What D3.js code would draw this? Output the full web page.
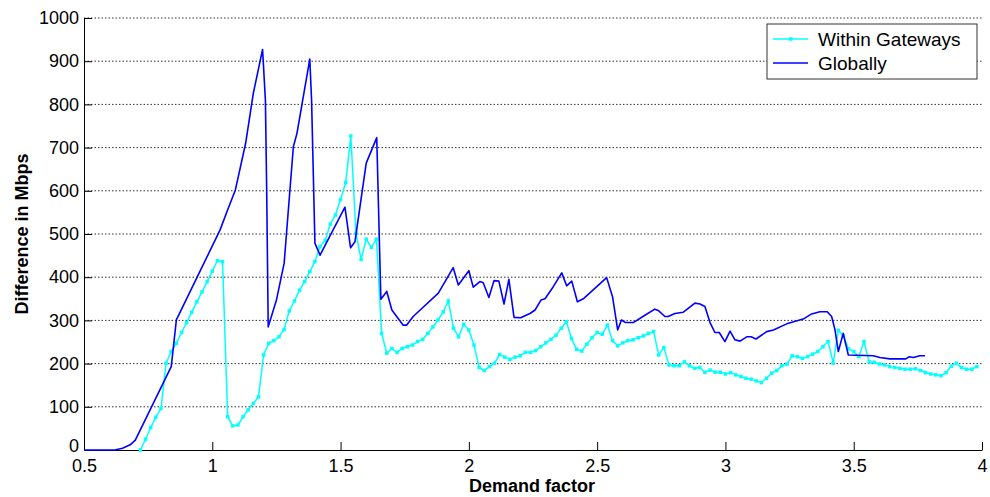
<!DOCTYPE html>
<html>
  <head>
    <meta charset="UTF-8">
    <title>Difference in Mbps vs demand factor</title>
  </head>
  <style type="text/css">
    body { margin: 0; background: #fff; }
    text { font-family: Arial, "Liberation Sans", sans-serif; fill: #000; }
    .tick text { font-size: 18px; }
    .axis-title { font-size: 18px; font-weight: bold; }
    .legend text { font-size: 19px; }
    .grid line { stroke: #333; stroke-dasharray: 1.5,2; }
  </style>
  <body>
    <svg width="990" height="497"></svg>
  </body>
  <script src="https://d3js.org/d3.v7.min.js"></script>
  <script type="text/javascript">
    // tick labels
    const xTicks = [0.5, 1, 1.5, 2, 2.5, 3, 3.5, 4];
    const yTicks = [0, 100, 200, 300, 400, 500, 600, 700, 800, 900, 1000];
    const seriesNames = ['Within Gateways', 'Globally'];

    // [demand factor, Mbps]
    const gateways = [
      [0.72,0],[0.74,25],[0.76,52],[0.78,76],[0.80,96],[0.82,201],[0.84,228],[0.86,247],[0.88,272],[0.90,295],
      [0.92,319],[0.94,343],[0.96,366],[0.98,390],[1.00,414],[1.02,438],[1.04,436],[1.06,77],[1.08,56],[1.10,58],
      [1.12,77],[1.14,93],[1.16,108],[1.18,123],[1.20,220],[1.22,247],[1.24,253],[1.26,262],[1.28,279],[1.30,322],
      [1.32,345],[1.34,370],[1.36,390],[1.38,413],[1.40,436],[1.42,471],[1.44,485],[1.46,523],[1.48,544],[1.50,580],
      [1.52,619],[1.54,727],[1.56,502],[1.58,441],[1.60,488],[1.62,469],[1.64,488],[1.66,270],[1.68,224],[1.70,235],
      [1.72,226],[1.74,235],[1.76,239],[1.78,243],[1.80,251],[1.82,256],[1.84,270],[1.86,285],[1.88,301],[1.90,320],
      [1.92,345],[1.94,282],[1.96,262],[1.98,291],[2.00,278],[2.02,243],[2.04,191],[2.06,184],[2.08,193],[2.10,201],
      [2.12,221],[2.14,215],[2.16,210],[2.18,215],[2.20,218],[2.22,226],[2.24,226],[2.26,230],[2.28,239],[2.30,248],
      [2.32,256],[2.34,266],[2.36,282],[2.38,297],[2.40,258],[2.42,233],[2.44,229],[2.46,245],[2.48,260],[2.50,272],
      [2.52,268],[2.54,289],[2.56,253],[2.58,241],[2.60,248],[2.62,253],[2.64,255],[2.66,260],[2.68,264],[2.70,270],
      [2.72,274],[2.74,220],[2.76,237],[2.78,197],[2.80,195],[2.82,195],[2.84,204],[2.86,195],[2.88,189],[2.90,191],
      [2.92,180],[2.94,185],[2.96,180],[2.98,180],[3.00,176],[3.02,179],[3.04,174],[3.06,170],[3.08,166],[3.10,164],
      [3.12,160],[3.14,156],[3.16,166],[3.18,178],[3.20,184],[3.22,195],[3.24,199],[3.26,218],[3.28,216],[3.30,212],
      [3.32,216],[3.34,222],[3.36,228],[3.38,239],[3.40,251],[3.42,201],[3.44,277],[3.46,264],[3.48,234],[3.50,228],
      [3.52,216],[3.54,251],[3.56,204],[3.58,203],[3.60,199],[3.62,197],[3.64,193],[3.66,191],[3.68,189],[3.70,187],
      [3.72,187],[3.74,188],[3.76,184],[3.78,179],[3.80,176],[3.82,174],[3.84,172],[3.86,179],[3.88,194],[3.90,201],
      [3.92,191],[3.94,187],[3.96,187],[3.98,193]
    ];

    const globally = [
      [0.5,0],[0.62,0],[0.65,4],[0.68,12],[0.70,23],[0.84,193],[0.86,301],[1.03,509],[1.06,556],[1.09,602],
      [1.13,710],[1.16,826],[1.196,927],[1.207,810],[1.212,602],[1.218,285],[1.25,347],[1.28,432],[1.316,702],[1.33,733],
      [1.38,905],[1.387,810],[1.40,479],[1.42,451],[1.517,562],[1.539,468],[1.556,482],[1.60,664],[1.641,723],[1.657,349],
      [1.68,367],[1.70,324],[1.744,289],[1.757,289],[1.783,309],[1.881,363],[1.939,422],[1.959,382],[2.0,415],[2.017,377],
      [2.043,390],[2.056,387],[2.078,353],[2.098,392],[2.117,391],[2.137,338],[2.156,395],[2.176,307],[2.202,306],[2.238,316],
      [2.258,324],[2.281,347],[2.297,350],[2.329,378],[2.362,410],[2.381,380],[2.401,391],[2.423,343],[2.446,350],[2.537,399],
      [2.56,355],[2.58,278],[2.595,301],[2.611,295],[2.641,295],[2.686,312],[2.725,326],[2.738,323],[2.764,309],[2.777,309],
      [2.803,316],[2.836,319],[2.855,328],[2.881,340],[2.901,338],[2.92,332],[2.94,295],[2.959,272],[2.976,272],[2.998,251],
      [3.018,275],[3.037,255],[3.057,252],[3.083,262],[3.10,262],[3.119,257],[3.161,274],[3.187,278],[3.239,292],[3.303,303],
      [3.336,315],[3.368,320],[3.397,320],[3.414,309],[3.427,278],[3.44,228],[3.459,270],[3.479,220],[3.576,218],[3.602,214],
      [3.641,211],[3.703,211],[3.717,216],[3.732,214],[3.758,218],[3.778,218]
    ];

    const svg = d3.select('svg');

    const x = d3.scaleLinear().domain([0.5, 4]).range([84, 982]);
    const y = d3.scaleLinear().domain([0, 1000]).range([450, 18]);

    // dotted horizontal grid
    svg.append('g').attr('class', 'grid')
      .selectAll('line')
      .data(yTicks.filter(d => d > 0))
      .join('line')
        .attr('x1', x(0.5)).attr('x2', x(4))
        .attr('y1', d => y(d)).attr('y2', d => y(d));

    const xAxis = svg.append('g')
      .attr('transform', 'translate(0,' + y(0) + ')')
      .call(d3.axisBottom(x).tickValues(xTicks).tickFormat(d3.format('~g'))
        .tickSizeInner(-8).tickSizeOuter(0).tickPadding(9));

    const yAxis = svg.append('g')
      .attr('transform', 'translate(' + x(0.5) + ',0)')
      .call(d3.axisLeft(y).tickValues(yTicks).tickFormat(d3.format('d'))
        .tickSizeInner(-8).tickSizeOuter(0).tickPadding(5));

    [xAxis, yAxis].forEach(a => {
      a.attr('font-family', null).attr('font-size', null);
      a.selectAll('path, line').attr('stroke', '#000');
    });

    // the "0" label sits a bit higher, clear of "0.5"
    yAxis.selectAll('.tick text').filter(d => d === 0).attr('dy', '0.1em');

    const line = d3.line().x(d => x(d[0])).y(d => y(d[1]));

    // within gateways: cyan with small square markers
    svg.append('path')
      .datum(gateways)
      .attr('d', line)
      .attr('fill', 'none')
      .attr('stroke', '#00ffff')
      .attr('stroke-width', 1.5);

    svg.append('g')
      .selectAll('rect')
      .data(gateways)
      .join('rect')
        .attr('x', d => x(d[0]) - 1.75)
        .attr('y', d => y(d[1]) - 1.75)
        .attr('width', 3.5).attr('height', 3.5)
        .attr('fill', '#00ffff');

    // globally: blue line
    svg.append('path')
      .datum(globally)
      .attr('d', line)
      .attr('fill', 'none')
      .attr('stroke', '#0000ff')
      .attr('stroke-width', 1.6)
      .attr('stroke-linejoin', 'round');

    // axis titles
    svg.append('text')
      .attr('class', 'axis-title')
      .attr('x', 532).attr('y', 492)
      .attr('text-anchor', 'middle')
      .text('Demand factor');

    svg.append('text')
      .attr('class', 'axis-title')
      .attr('transform', 'translate(28,234) rotate(-90)')
      .attr('text-anchor', 'middle')
      .text('Difference in Mbps');

    // legend
    const legend = svg.append('g').attr('class', 'legend');
    legend.append('rect')
      .attr('x', 767).attr('y', 24)
      .attr('width', 210).attr('height', 55)
      .attr('fill', '#fff').attr('stroke', '#333');

    const colors = ['#00ffff', '#0000ff'];
    const rows = legend.selectAll('g.row')
      .data(seriesNames)
      .join('g')
        .attr('class', 'row')
        .attr('transform', (d, i) => 'translate(0,' + (39 + i * 24) + ')');

    rows.append('line')
      .attr('x1', 773).attr('x2', 808)
      .attr('stroke', (d, i) => colors[i])
      .attr('stroke-width', 1.5);

    rows.filter((d, i) => i === 0).append('rect')
      .attr('x', 789).attr('y', -1.75)
      .attr('width', 3.5).attr('height', 3.5)
      .attr('fill', colors[0]);

    rows.append('text')
      .attr('x', 818).attr('y', 7)
      .text(d => d);
  </script>
</html>
